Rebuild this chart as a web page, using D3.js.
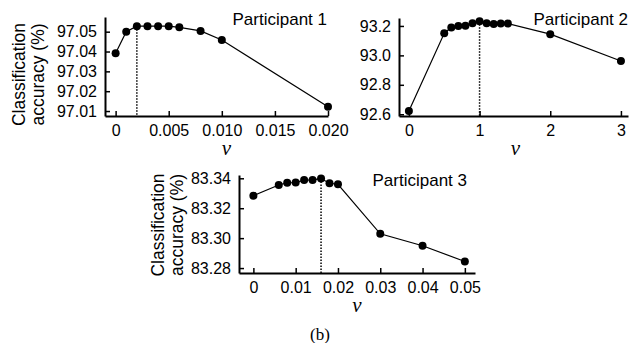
<!DOCTYPE html>
<html><head><meta charset="utf-8">
<script src="https://cdn.jsdelivr.net/npm/d3@7"></script>
<style>
body{margin:0;background:#fff;}
svg{display:block;}
text{font-family:"Liberation Sans",Arial,sans-serif;fill:#000;}
</style></head>
<body>
<script>
// ---- Data ----
const p1Nu = [0, 0.001, 0.002, 0.003, 0.004, 0.005, 0.006, 0.008, 0.010, 0.020];
const p1Acc = [97.0391, 97.0500, 97.0528, 97.0528, 97.0528, 97.0528, 97.0522, 97.0504, 97.0458, 97.0122];
const p1Best = 0.002;
const p1XTicks = [0, 0.005, 0.010, 0.015, 0.020];
const p1XLabels = ["0", "0.005", "0.010", "0.015", "0.020"];
const p1YTicks = [97.01, 97.02, 97.03, 97.04, 97.05];
const p1YLabels = ["97.01", "97.02", "97.03", "97.04", "97.05"];

const p2Nu = [0, 0.5, 0.6, 0.7, 0.8, 0.9, 1.0, 1.1, 1.2, 1.3, 1.4, 2, 3];
const p2Acc = [92.622, 93.150, 93.190, 93.200, 93.202, 93.218, 93.232, 93.218, 93.214, 93.216, 93.216, 93.144, 92.962];
const p2Best = 1.0;
const p2XTicks = [0, 1, 2, 3];
const p2XLabels = ["0", "1", "2", "3"];
const p2YTicks = [92.6, 92.8, 93.0, 93.2];
const p2YLabels = ["92.6", "92.8", "93.0", "93.2"];

const p3Nu = [0, 0.006, 0.008, 0.010, 0.012, 0.014, 0.016, 0.018, 0.020, 0.03, 0.04, 0.05];
const p3Acc = [83.3284, 83.3355, 83.3370, 83.3372, 83.3388, 83.3389, 83.3398, 83.3367, 83.3360, 83.3029, 83.2949, 83.2844];
const p3Best = 0.016;
const p3XTicks = [0, 0.01, 0.02, 0.03, 0.04, 0.05];
const p3XLabels = ["0", "0.01", "0.02", "0.03", "0.04", "0.05"];
const p3YTicks = [83.28, 83.30, 83.32, 83.34];
const p3YLabels = ["83.28", "83.30", "83.32", "83.34"];

const titles = ["Participant 1", "Participant 2", "Participant 3"];
const yTitle = ["Classification", "accuracy (%)"];
const xTitle = "\u03BD";
const caption = "(b)";

const W = 629, H = 343;
const svg = d3.select("body").append("svg").attr("width", W).attr("height", H);

function panel(cfg) {
  const x = d3.scaleLinear().domain(cfg.xDom).range([cfg.x0, cfg.x1]);
  const y = d3.scaleLinear().domain(cfg.yDom).range([cfg.y1, cfg.y0]);
  const g = svg.append("g");

  const xa = d3.axisBottom(x).tickValues(cfg.xTicks)
    .tickFormat((d, i) => cfg.xLabels[i]).tickSizeInner(-5).tickSizeOuter(0).tickPadding(9);
  const ya = d3.axisLeft(y).tickValues(cfg.yTicks)
    .tickFormat((d, i) => cfg.yLabels[i]).tickSizeInner(-5).tickSizeOuter(0).tickPadding(8);

  const gx = g.append("g").attr("transform", `translate(0,${cfg.y1})`).call(xa);
  const gy = g.append("g").attr("transform", `translate(${cfg.x0},0)`).call(ya);
  [gx, gy].forEach(a => {
    a.select(".domain").attr("stroke", "#000").attr("stroke-width", 2);
    a.selectAll(".tick line").attr("stroke", "#000").attr("stroke-width", 1.5);
    a.selectAll(".tick text").style("font-family", "'Liberation Sans',Arial,sans-serif")
      .style("font-size", "16px").attr("fill", "#000");
  });

  const data = cfg.nu.map((v, i) => [v, cfg.acc[i]]);
  const bi = cfg.nu.indexOf(cfg.best);
  g.append("line")
    .attr("x1", x(cfg.best)).attr("x2", x(cfg.best))
    .attr("y1", y(cfg.acc[bi])).attr("y2", cfg.y1)
    .attr("stroke", "#000").attr("stroke-width", 1.5).attr("stroke-dasharray", "1.5,1.5");

  g.append("path").datum(data)
    .attr("d", d3.line().x(d => x(d[0])).y(d => y(d[1])))
    .attr("fill", "none").attr("stroke", "#000").attr("stroke-width", 1.2);

  g.selectAll("circle.pt").data(data).enter().append("circle")
    .attr("cx", d => x(d[0])).attr("cy", d => y(d[1])).attr("r", 4).attr("fill", "#000");

  g.append("text").attr("x", cfg.tx).attr("y", cfg.ty).attr("text-anchor", "end")
    .style("font-size", "17px").text(cfg.title);

  g.append("text").attr("x", (cfg.x0 + cfg.x1) / 2 + cfg.nuDx).attr("y", cfg.y1 + 39)
    .attr("text-anchor", "middle")
    .style("font-family", "'Liberation Serif','Times New Roman',serif")
    .style("font-style", "italic").style("font-size", "21px").text(xTitle);

  if (cfg.ylab) {
    yTitle.forEach((t, i) => {
      g.append("text")
        .attr("transform", `translate(${cfg.ylx + i * 18.5},${cfg.ylc}) rotate(-90)`)
        .attr("text-anchor", "middle").style("font-size", "17.5px").text(t);
    });
  }
}

panel({nu: p1Nu, acc: p1Acc, best: p1Best, xTicks: p1XTicks, xLabels: p1XLabels,
  yTicks: p1YTicks, yLabels: p1YLabels, xDom: [-0.001, 0.020], yDom: [97.0075, 97.0574],
  x0: 105, x1: 328, y0: 17, y1: 116, title: titles[0], tx: 327, ty: 25, nuDx: 10,
  ylab: true, ylx: 25, ylc: 74.5});

panel({nu: p2Nu, acc: p2Acc, best: p2Best, xTicks: p2XTicks, xLabels: p2XLabels,
  yTicks: p2YTicks, yLabels: p2YLabels, xDom: [-0.14, 3.1], yDom: [92.588, 93.254],
  x0: 399, x1: 628, y0: 18, y1: 116, title: titles[1], tx: 628, ty: 25, nuDx: 2, ylab: false});

panel({nu: p3Nu, acc: p3Acc, best: p3Best, xTicks: p3XTicks, xLabels: p3XLabels,
  yTicks: p3YTicks, yLabels: p3YLabels, xDom: [-0.0034, 0.0524], yDom: [83.2767, 83.3422],
  x0: 239, x1: 475, y0: 175, y1: 273, title: titles[2], tx: 467, ty: 186, nuDx: 0,
  ylab: true, ylx: 164, ylc: 225});

svg.append("text").attr("x", 320).attr("y", 340).attr("text-anchor", "middle")
  .style("font-family", "'Liberation Serif','Times New Roman',serif").style("font-size", "17px")
  .text(caption);
</script>
</body></html>
